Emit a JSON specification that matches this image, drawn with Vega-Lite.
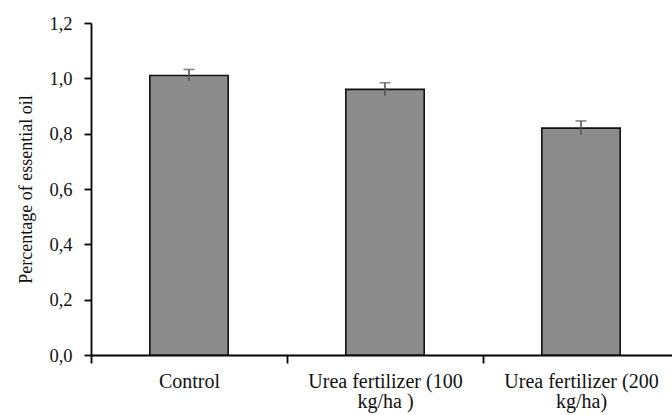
{
  "$schema": "https://vega.github.io/schema/vega-lite/v6.json",
  "autosize": {"type": "none"},
  "padding": {"left": 91, "top": 23, "right": 0, "bottom": 60},
  "width": 581,
  "height": 332,
  "background": "white",
  "config": {
    "view": {"stroke": null},
    "font": "Times New Roman, Liberation Serif, serif",
    "axis": {
      "domainColor": "black",
      "domainWidth": 1.8,
      "tickColor": "black",
      "tickWidth": 1.8,
      "labelFont": "Times New Roman, Liberation Serif, serif",
      "titleFont": "Times New Roman, Liberation Serif, serif",
      "labelColor": "#111",
      "titleColor": "#111",
      "titleFontWeight": "normal",
      "grid": false
    }
  },
  "data": {
    "values": [
      {"treatment": "Control", "mean": 1.01, "lower": 0.99, "upper": 1.032},
      {"treatment": "Urea fertilizer (100 kg/ha )", "mean": 0.96, "lower": 0.937, "upper": 0.984},
      {"treatment": "Urea fertilizer (200 kg/ha)", "mean": 0.82, "lower": 0.796, "upper": 0.846}
    ]
  },
  "encoding": {
    "x": {
      "field": "treatment",
      "type": "nominal",
      "sort": null,
      "scale": {"paddingInner": 0, "paddingOuter": 0, "range": [0, 588]},
      "axis": {
        "title": null,
        "labelAngle": 0,
        "labelFontSize": 20,
        "labelLineHeight": 20.5,
        "labelPadding": 8,
        "labelBaseline": "top",
        "tickSize": 8,
        "tickBand": "extent",
        "labelExpr": "isString(datum.value) && indexof(datum.value, ' kg') > 0 ? [slice(datum.value, 0, indexof(datum.value, ' kg')), slice(datum.value, indexof(datum.value, ' kg') + 1)] : datum.label"
      }
    }
  },
  "layer": [
    {
      "mark": {"type": "bar", "width": {"band": 0.4}, "fill": "#8c8c8c", "stroke": "#111", "strokeWidth": 1.6},
      "encoding": {
        "y": {
          "field": "mean",
          "type": "quantitative",
          "scale": {"domain": [0, 1.2], "nice": false},
          "axis": {
            "title": "Percentage of essential oil",
            "titleFontSize": 18,
            "titlePadding": 13,
            "labelFontSize": 18.5,
            "labelPadding": 12,
            "tickSize": 7,
            "values": [0, 0.2, 0.4, 0.6, 0.8, 1.0, 1.2],
            "labelExpr": "replace(format(datum.value, '.1f'), '.', ',')"
          }
        }
      }
    },
    {
      "mark": {"type": "rule", "color": "#555", "strokeWidth": 1.6},
      "encoding": {
        "y": {"field": "lower", "type": "quantitative"},
        "y2": {"field": "upper"}
      }
    },
    {
      "mark": {"type": "tick", "color": "#555", "size": 11, "thickness": 1.6},
      "encoding": {
        "y": {"field": "upper", "type": "quantitative"}
      }
    }
  ]
}
